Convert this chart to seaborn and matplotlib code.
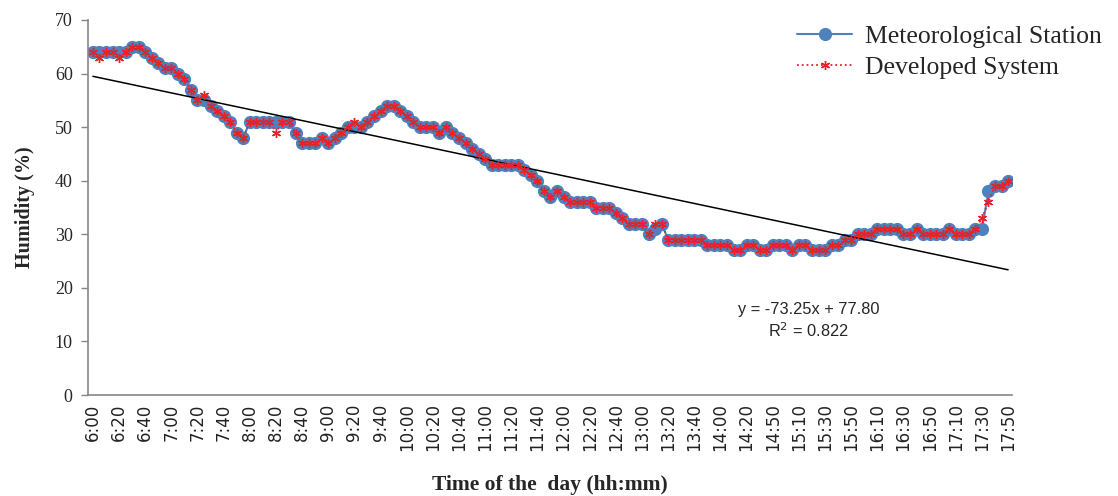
import numpy as np
import pandas as pd
import matplotlib
matplotlib.use("Agg")
import matplotlib.pyplot as plt
import seaborn as sns

# x tick labels, one every 4 readings (5 min steps, gap after 14:20)
tick_labels = ["6:00", "6:20", "6:40", "7:00", "7:20", "7:40", "8:00", "8:20", "8:40",
               "9:00", "9:20", "9:40", "10:00", "10:20", "10:40", "11:00", "11:20", "11:40",
               "12:00", "12:20", "12:40", "13:00", "13:20", "13:40", "14:00", "14:20",
               "14:50", "15:10", "15:30", "15:50", "16:10", "16:30", "16:50", "17:10",
               "17:30", "17:50"]

# humidity (%) - meteorological station
station = [64, 64, 64, 64, 64, 64, 65, 65, 64, 63,
           62, 61, 61, 60, 59, 57, 55, 55, 54, 53,
           52, 51, 49, 48, 51, 51, 51, 51, 51, 51,
           51, 49, 47, 47, 47, 48, 47, 48, 49, 50,
           50, 50, 51, 52, 53, 54, 54, 53, 52, 51,
           50, 50, 50, 49, 50, 49, 48, 47, 46, 45,
           44, 43, 43, 43, 43, 43, 42, 41, 40, 38,
           37, 38, 37, 36, 36, 36, 36, 35, 35, 35,
           34, 33, 32, 32, 32, 30, 31, 32, 29, 29,
           29, 29, 29, 29, 28, 28, 28, 28, 27, 27,
           28, 28, 27, 27, 28, 28, 28, 27, 28, 28,
           27, 27, 27, 28, 28, 29, 29, 30, 30, 30,
           31, 31, 31, 31, 30, 30, 31, 30, 30, 30,
           30, 31, 30, 30, 30, 31, 31, 38, 39, 39, 40]

# readings where the developed system differs from the station
developed_diff = {1: 63, 4: 63, 17: 56, 28: 49, 40: 51, 86: 32, 136: 33, 137: 36}

# linear trend (x = fraction of a day)
slope = -73.25
intercept = 77.80
r2 = 0.822

developed = list(station)
for k, v in developed_diff.items():
    developed[k] = v

n = len(station)
df = pd.DataFrame({"idx": np.arange(n), "station": station, "developed": developed})


def day_frac(s):
    h, m = s.split(":")
    return (int(h) + int(m) / 60) / 24


t0, t1 = day_frac(tick_labels[0]), day_frac(tick_labels[-1])
trend = pd.DataFrame({"idx": [0, n - 1],
                      "y": [slope * t0 + intercept, slope * t1 + intercept]})

sns.set_style("white")
serif = ["Liberation Serif", "DejaVu Serif"]
sans = ["DejaVu Sans"]

fig = plt.figure(figsize=(11.18, 4.96), dpi=100)
ax = fig.add_axes([88 / 1118, 1 - 395 / 496, 924 / 1118, 375 / 496])

sns.lineplot(data=df, x="idx", y="station", ax=ax, color="#4F81BD", lw=1.5,
             marker="o", markersize=9.5, markeredgewidth=0,
             label="Meteorological Station", zorder=2)
sns.lineplot(data=trend, x="idx", y="y", ax=ax, color="black", lw=1.1,
             legend=False, zorder=3)
sns.lineplot(data=df, x="idx", y="developed", ax=ax, color="#E8202A", lw=1.3,
             linestyle=":", marker=(6, 2, 0), markersize=6.5, markeredgewidth=1,
             markeredgecolor="#E8202A", label="Developed System", zorder=4)

ax.set_xlim(-0.75, n - 0.4)
ax.set_ylim(0, 70)
ax.set_yticks(range(0, 71, 10))
ax.set_yticklabels([str(v) for v in range(0, 71, 10)], family=serif, fontsize=13)
ax.set_xticks(np.arange(0, n, 4))
ax.set_xticklabels(tick_labels, rotation=90, family=sans, fontsize=12, color="#222222")
ax.tick_params(axis="y", length=5, width=1, color="#868686", direction="out",
               left=True, pad=6)
ax.tick_params(axis="x", length=0, pad=6)

for s in ["top", "right"]:
    ax.spines[s].set_visible(False)
for s in ["left", "bottom"]:
    ax.spines[s].set_color("#868686")
    ax.spines[s].set_linewidth(1.2)

ax.set_xlabel("Time of the  day (hh:mm)", family=serif, fontsize=15.5,
              fontweight="bold", labelpad=17)
ax.set_ylabel("Humidity (%)", family=serif, fontsize=14.5, fontweight="bold",
              labelpad=14)

ax.text(0.780, 0.197, "y = -73.25x + 77.80\nR$^2$ = 0.822", transform=ax.transAxes,
        ha="center", va="center", family=["Liberation Sans"], fontsize=11.8,
        linespacing=1.3)

leg = ax.legend(loc="upper left", bbox_to_anchor=(774 / 1118, 1 - 2 / 496),
                bbox_transform=fig.transFigure, frameon=False, handlelength=2.15,
                prop={"family": serif, "size": 18.5}, labelspacing=0.32,
                handletextpad=0.5)

fig.savefig("out.png", dpi=100)
